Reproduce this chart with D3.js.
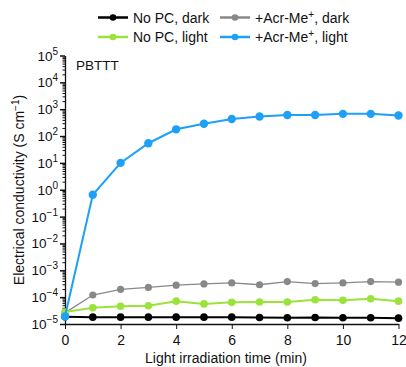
<!DOCTYPE html>
<html>
<head>
<meta charset="utf-8">
<script src="https://cdn.jsdelivr.net/npm/d3@7"></script>
<style>
  body { margin: 0; background: #fff; }
  text { font-family: "Liberation Sans", Arial, sans-serif; fill: #111; }
</style>
</head>
<body>
<svg id="chart" width="406" height="367"></svg>
<script>
// time in minutes
var times = [0, 1, 2, 3, 4, 5, 6, 7, 8, 9, 10, 11, 12];

// conductivity values (S cm-1)
var noPcDark = [1.85e-5, 1.8e-5, 1.8e-5, 1.8e-5, 1.8e-5, 1.8e-5, 1.8e-5, 1.75e-5, 1.7e-5, 1.75e-5, 1.7e-5, 1.7e-5, 1.65e-5];
var noPcLight = [2.8e-5, 4.0e-5, 4.6e-5, 4.8e-5, 7.1e-5, 5.6e-5, 6.4e-5, 6.6e-5, 6.6e-5, 8.0e-5, 7.6e-5, 8.7e-5, 7.1e-5];
var acrDark = [2.6e-5, 1.2e-4, 1.95e-4, 2.3e-4, 2.8e-4, 3.1e-4, 3.4e-4, 2.9e-4, 3.8e-4, 3.2e-4, 3.4e-4, 3.8e-4, 3.6e-4];
var acrLight = [1.9e-5, 0.65, 10, 54, 178, 288, 430, 535, 610, 610, 670, 670, 585];

var xTicks = [0, 2, 4, 6, 8, 10, 12];
var yExponents = [-5, -4, -3, -2, -1, 0, 1, 2, 3, 4, 5];

var series = [
  { name: 'No PC, dark', values: noPcDark, color: '#000000', width: 2, r: 3.8 },
  { name: '+Acr-Me', sup: '+', after: ', dark', values: acrDark, color: '#888888', width: 1.3, r: 3.6 },
  { name: 'No PC, light', values: noPcLight, color: '#9ae33b', width: 2, r: 3.8 },
  { name: '+Acr-Me', sup: '+', after: ', light', values: acrLight, color: '#1ea0f6', width: 2, r: 4.2 }
];

var margin = { top: 55.5, right: 7.5, bottom: 43, left: 65 };
var W = 406, H = 367;
var svg = d3.select('#chart');

var x = d3.scaleLinear().domain([0, 12]).range([margin.left, W - margin.right]);
var y = d3.scaleLog().domain([1e-5, 1e5]).range([H - margin.bottom, margin.top]);

// y axis with log minor ticks
var minorTicks = [];
for (var e = -5; e < 5; e++) {
  for (var m = 2; m <= 9; m++) minorTicks.push(m * Math.pow(10, e));
}

var yAxisMinor = d3.axisLeft(y).tickValues(minorTicks).tickSize(2.5).tickFormat('');
svg.append('g').attr('transform', 'translate(' + margin.left + ',0)').call(yAxisMinor)
  .call(function (g) { g.select('.domain').remove(); })
  .selectAll('line').attr('stroke', '#111').attr('stroke-width', 1);

var yAxis = d3.axisLeft(y)
  .tickValues(yExponents.map(function (e) { return Math.pow(10, e); }))
  .tickSize(5).tickSizeOuter(0).tickFormat('');
var gy = svg.append('g').attr('transform', 'translate(' + margin.left + ',0)').call(yAxis);
gy.select('.domain').attr('stroke', '#111').attr('stroke-width', 1.3);
gy.selectAll('line').attr('stroke', '#111').attr('stroke-width', 1.5);

// y tick labels 10^n
yExponents.forEach(function (e) {
  var t = svg.append('text')
    .attr('x', 58).attr('y', y(Math.pow(10, e)) + 5)
    .attr('text-anchor', 'end')
    .style('font-size', '13.5px');
  t.append('tspan').text('10');
  t.append('tspan').attr('dy', -6).style('font-size', '10px')
    .text(e < 0 ? '\u2212' + (-e) : String(e));
});

// x axis
var xAxis = d3.axisBottom(x).tickValues(xTicks).tickSize(5).tickSizeOuter(0);
var gx = svg.append('g').attr('transform', 'translate(0,' + (H - margin.bottom) + ')').call(xAxis);
gx.select('.domain').attr('stroke', '#111').attr('stroke-width', 1.3);
gx.selectAll('line').attr('stroke', '#111').attr('stroke-width', 1);
gx.selectAll('text').attr('dy', 0).attr('y', 21).style('font-size', '14px')
  .style('font-family', '"Liberation Sans", Arial, sans-serif').attr('fill', '#111');

// axis titles
svg.append('text')
  .attr('x', 226).attr('y', 363)
  .attr('text-anchor', 'middle').style('font-size', '14px')
  .text('Light irradiation time (min)');

var yl = svg.append('text')
  .attr('transform', 'translate(24,190) rotate(-90)')
  .attr('text-anchor', 'middle').style('font-size', '14px');
yl.append('tspan').text('Electrical conductivity (S cm');
yl.append('tspan').attr('dy', -5).style('font-size', '10px').text('\u22121');
yl.append('tspan').attr('dy', 5).text(')');

svg.append('text').attr('x', 76).attr('y', 70).style('font-size', '13.5px').text('PBTTT');

// lines + markers
var line = d3.line()
  .x(function (d, i) { return x(times[i]); })
  .y(function (d) { return y(d); });

series.forEach(function (s) {
  svg.append('path').datum(s.values)
    .attr('d', line).attr('fill', 'none')
    .attr('stroke', s.color).attr('stroke-width', s.width);
  svg.selectAll(null).data(s.values).enter().append('circle')
    .attr('cx', function (d, i) { return x(times[i]); })
    .attr('cy', function (d) { return y(d); })
    .attr('r', s.r).attr('fill', s.color);
});

// legend, 2 columns
var legendPos = [[98, 17.5], [220, 17.5], [98, 37], [220, 37]];
series.forEach(function (s, i) {
  var p = legendPos[i];
  var g = svg.append('g').attr('transform', 'translate(' + p[0] + ',' + p[1] + ')');
  g.append('line').attr('x1', 0).attr('x2', 30).attr('y1', 0).attr('y2', 0)
    .attr('stroke', s.color).attr('stroke-width', 2.5);
  g.append('circle').attr('cx', 15).attr('cy', 0).attr('r', 3.3).attr('fill', s.color);
  var t = g.append('text').attr('x', 35).attr('y', 5).style('font-size', '14px');
  t.append('tspan').text(s.name);
  if (s.sup) {
    t.append('tspan').attr('dy', -5).style('font-size', '10px').text(s.sup);
    t.append('tspan').attr('dy', 5).text(s.after);
  }
});
</script>
</body>
</html>
